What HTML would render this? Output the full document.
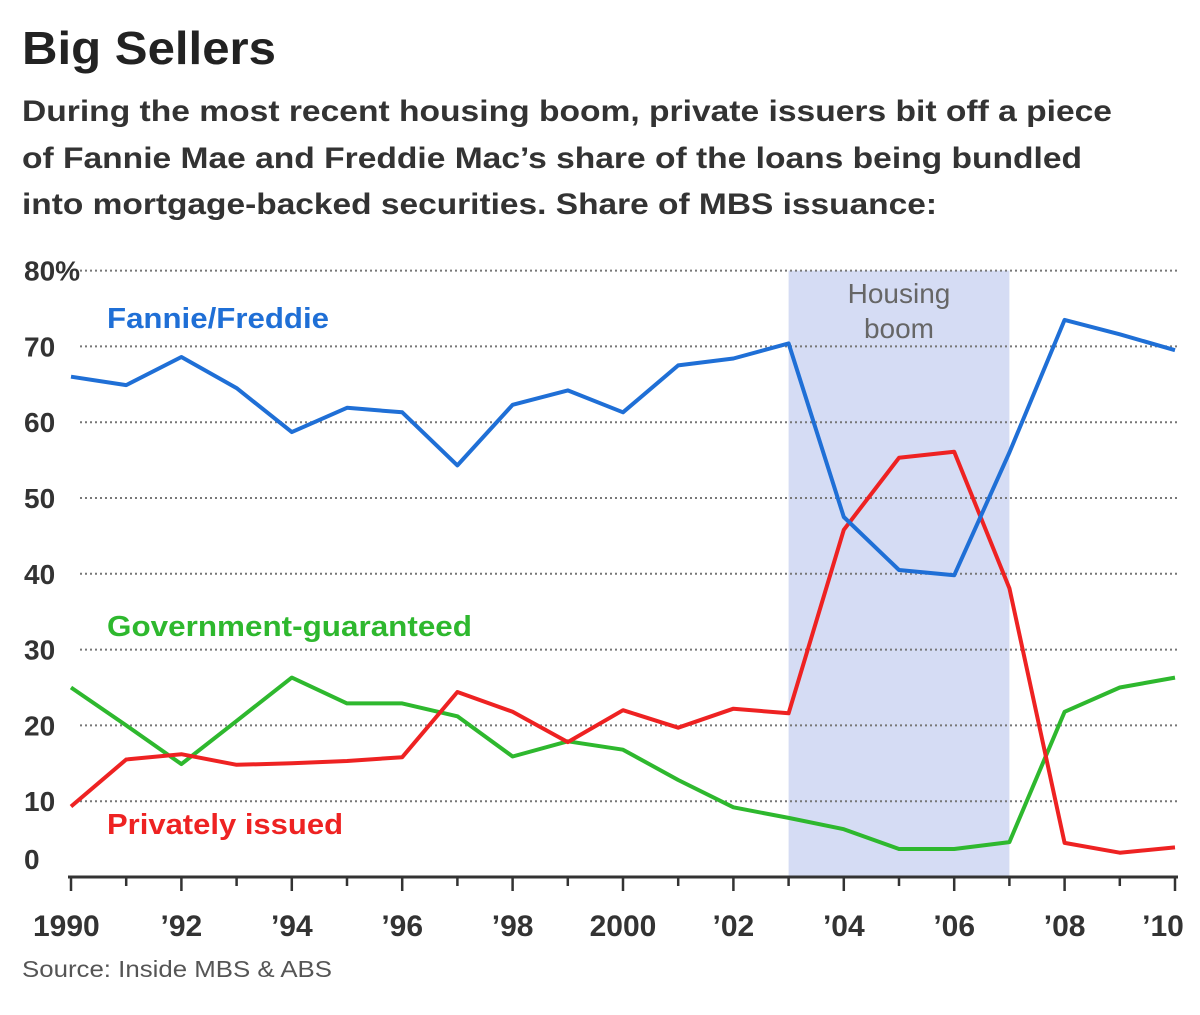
<!DOCTYPE html>
<html><head><meta charset="utf-8"><style>
body{margin:0;background:#fff}
svg{display:block;font-family:"Liberation Sans",sans-serif}
</style></head><body>
<svg id="chart" width="1200" height="1015" viewBox="0 0 1200 1015">
<text x="22" y="64" font-size="46" font-weight="bold" fill="#222" textLength="254" lengthAdjust="spacingAndGlyphs">Big Sellers</text>
<g font-size="30" font-weight="bold" fill="#333">
<text x="22" y="121" textLength="1090" lengthAdjust="spacingAndGlyphs">During the most recent housing boom, private issuers bit off a piece</text>
<text x="22" y="168" textLength="1060" lengthAdjust="spacingAndGlyphs">of Fannie Mae and Freddie Mac’s share of the loans being bundled</text>
<text x="22" y="214" textLength="915" lengthAdjust="spacingAndGlyphs">into mortgage-backed securities. Share of MBS issuance:</text>
</g>
<g id="plot"></g>
<text x="22" y="977" font-size="23" fill="#555" textLength="310" lengthAdjust="spacingAndGlyphs">Source: Inside MBS &amp; ABS</text>
</svg>
<script>
const years=[1990,1991,1992,1993,1994,1995,1996,1997,1998,1999,2000,2001,2002,2003,2004,2005,2006,2007,2008,2009,2010];
const fannieFreddie=[66,64.9,68.6,64.5,58.7,61.9,61.3,54.3,62.3,64.2,61.3,67.5,68.4,70.4,47.5,40.5,39.8,56,73.5,71.6,69.5];
const privatelyIssued=[9.3,15.5,16.2,14.8,15,15.3,15.8,24.4,21.8,17.8,22,19.7,22.2,21.6,45.8,55.3,56.1,38.1,4.5,3.2,3.9];
const governmentGuaranteed=[25,20,14.9,20.6,26.3,22.9,22.9,21.2,15.9,17.9,16.8,12.8,9.2,7.8,6.3,3.7,3.7,4.6,21.8,25,26.3];
const yTicks=[0,10,20,30,40,50,60,70,80];
const yTickLabels=["0","10","20","30","40","50","60","70","80%"];
const xTickYears=[1990,1992,1994,1996,1998,2000,2002,2004,2006,2008,2010];
const xTickLabels=["1990","’92","’94","’96","’98","2000","’02","’04","’06","’08","’10"];
const boomStart=2003, boomEnd=2007;

const NS="http://www.w3.org/2000/svg";
const g=document.getElementById('plot');
const X=v=>71+(v-1990)*(1175-71)/20;
const Y=v=>877-v*7.58;
function mk(t,a,txt){const e=document.createElementNS(NS,t);for(const k in a)e.setAttribute(k,a[k]);if(txt!==undefined)e.textContent=txt;g.appendChild(e);return e;}

let r=mk('rect',{x:X(boomStart),y:Y(80),width:X(boomEnd)-X(boomStart),height:Y(0)-Y(80),fill:"#d5dcf4"});


let t=mk('text',{x:(X(boomStart)+X(boomEnd))/2,y:303,'font-size':28,fill:"#666",'text-anchor':'middle'},"Housing");


t=mk('text',{x:(X(boomStart)+X(boomEnd))/2,y:338,'font-size':28,fill:"#666",'text-anchor':'middle'},"boom");



yTicks.forEach((v,i)=>{
  if(v>0){let l=mk('line',{x1:80,x2:1180,y1:Y(v),y2:Y(v),stroke:"#777",'stroke-width':2,'stroke-dasharray':"2,3"});
  
  }
  let tx=mk('text',{x:24,y:Y(v)+10-(v==0?18:0),'font-size':28,'font-weight':'bold',fill:"#333"},yTickLabels[i]);
  
  
});
let ax=mk('line',{x1:68,x2:1178,y1:Y(0),y2:Y(0),stroke:"#333",'stroke-width':3});


years.forEach(yr=>{
  let l=mk('line',{x1:X(yr),x2:X(yr),y1:Y(0),y2:Y(0)+(yr%2==0?14:9),stroke:"#333",'stroke-width':2.5});
  
  
});
xTickYears.forEach((yr,i)=>{
  let tx=mk('text',{x:X(yr)+(i==0?-38:(i==10?-12:0)),y:936,'font-size':30,'font-weight':'bold',fill:"#333",'text-anchor':i==0?'start':'middle'},xTickLabels[i]);
  
  
});
function series(vals,color,name){
  const d=vals.map((v,i)=>(i?'L':'M')+X(years[i]).toFixed(1)+','+Y(v).toFixed(1)).join('');
  let p=mk('path',{d:d,fill:'none',stroke:color,'stroke-width':4,'stroke-linejoin':'round'});
  
  
}
series(governmentGuaranteed,"#2eb82e","government-guaranteed-line");
series(privatelyIssued,"#ee2222","privately-issued-line");
series(fannieFreddie,"#1f6fd6","fannie-freddie-line");
const labs=[["Fannie/Freddie",107,328,"#1f6fd6",222],["Government-guaranteed",107,636,"#2eb82e",365],["Privately issued",107,834,"#ee2222",236]];
labs.forEach(a=>{
  let tx=mk('text',{x:a[1],y:a[2],'font-size':29,'font-weight':'bold',fill:a[3],textLength:a[4],lengthAdjust:'spacingAndGlyphs'},a[0]);
  
  
});
</script>
</body></html>
